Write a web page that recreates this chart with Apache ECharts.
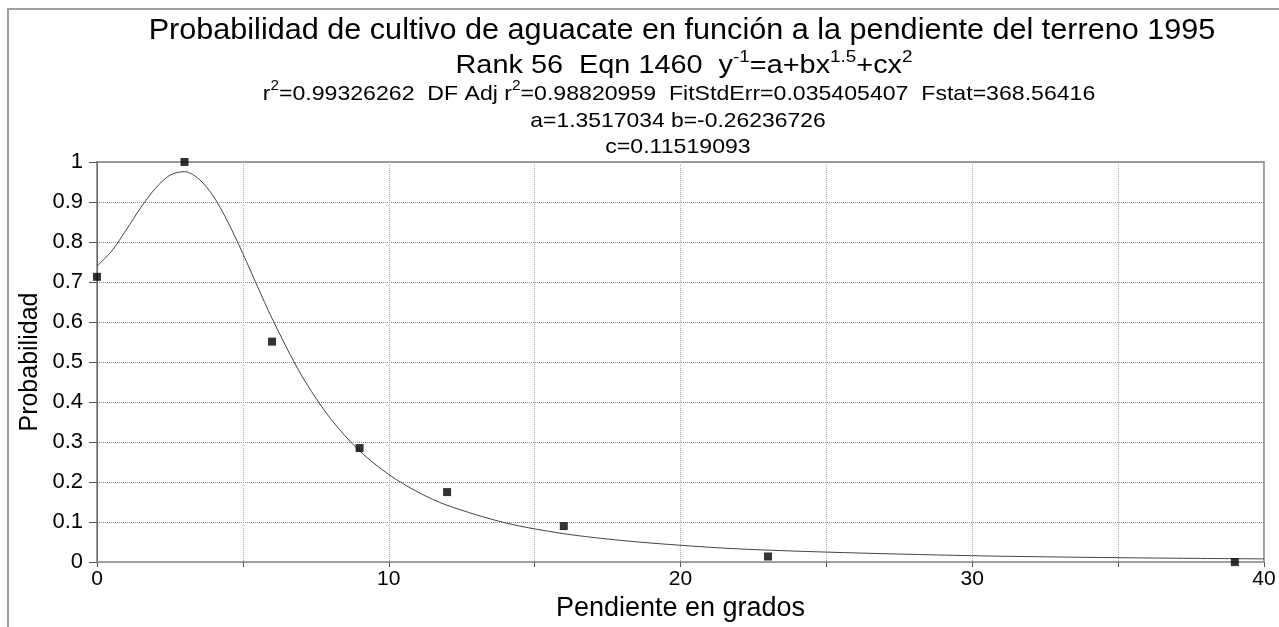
<!DOCTYPE html>
<html>
<head>
<meta charset="utf-8">
<title>Probabilidad de cultivo de aguacate</title>
<script src="https://cdn.jsdelivr.net/npm/echarts@6/dist/echarts.min.js"></script>
<style>
	html, body { margin: 0; padding: 0; background: #fff; }
	#chart { width: 1279px; height: 627px; }
</style>
</head>
<body>
<div id="chart"></div>
<script>
// puntos observados (pendiente en grados, probabilidad)
var puntosX = [0, 3, 6, 9, 12, 16, 23, 39];
var puntosY = [0.713, 1.0, 0.551, 0.285, 0.175, 0.090, 0.014, 0.0];

// curva ajustada
var curvaX = [0, 0.5, 1, 1.5, 2, 2.5, 3, 3.5, 4, 4.5, 5, 5.5, 6, 7, 8, 9, 10, 11, 12, 14, 16, 18, 20, 22, 25, 30, 35, 40];
var curvaY = [0.740, 0.777, 0.830, 0.886, 0.934, 0.967, 0.976, 0.957, 0.913, 0.848, 0.771, 0.689, 0.609, 0.468, 0.359, 0.278, 0.219, 0.175, 0.142, 0.098, 0.071, 0.054, 0.042, 0.033, 0.025, 0.016, 0.011, 0.008];

// textos del titulo
var titulo = 'Probabilidad de cultivo de aguacate en función a la pendiente del terreno 1995';
var linea2 = '{n|Rank 56  Eqn 1460  y}{s|-1}{n|=a+bx}{s|1.5}{n|+cx}{s|2}';
var linea3 = '{n|r}{s|2}{n|=0.99326262  DF Adj r}{s|2}{n|=0.98820959  FitStdErr=0.035405407  Fstat=368.56416}';
var linea4 = 'a=1.3517034 b=-0.26236726';
var linea5 = 'c=0.11519093';

var nombreX = 'Pendiente en grados';
var nombreY = 'Probabilidad';

var fuente = '"Liberation Sans", Arial, sans-serif';

grafico = {
	chart: null,
	init: function(){
		grafico.chart = echarts.init(document.getElementById('chart'), null, {renderer: 'canvas'});
		grafico.render();
	},
	par: function(xs, ys){
		var d = [];
		for (var i = 0; i < xs.length; i++) {
			d.push([xs[i], ys[i]]);
		}
		return d;
	},
	// linea de texto centrada sobre el area del grafico
	texto: function(txt, x, y, size, sup, ancho){
		return {
			type: 'text',
			x: x,
			y: y,
			scaleX: ancho,
			silent: true,
			style: {
				text: txt,
				fontFamily: fuente,
				fontSize: size,
				fill: '#000',
				align: 'center',
				textAlign: 'center',
				verticalAlign: 'middle',
				textVerticalAlign: 'middle',
				rich: {
					n: {fontFamily: fuente, fontSize: size, lineHeight: size + 8, fill: '#000'},
					s: {fontFamily: fuente, fontSize: sup, lineHeight: sup, verticalAlign: 'top', fill: '#000'}
				}
			}
		};
	},
	render: function(){
		var option = {
			backgroundColor: '#fff',
			animation: false,
			textStyle: {fontFamily: fuente},
			graphic: [
				{
					type: 'rect',
					shape: {x: 8, y: 9, width: 1400, height: 800},
					style: {fill: 'none', stroke: '#a0a0a0', lineWidth: 2},
					silent: true
				},
				grafico.texto(titulo, 682, 31, 30, 18, 1.02),
				grafico.texto(linea2, 684, 66, 26, 17, 1.11),
				grafico.texto(linea3, 679, 94, 21, 14, 1.1),
				grafico.texto(linea4, 678, 121, 21, 14, 1.09),
				grafico.texto(linea5, 678, 147, 21, 14, 1.1)
			],
			grid: {
				left: 97,
				right: 15,
				top: 162,
				bottom: 57,
				show: true,
				borderColor: '#a0a0a0',
				borderWidth: 2
			},
			xAxis: {
				type: 'value',
				min: 0,
				max: 40,
				interval: 5,
				name: nombreX,
				nameLocation: 'middle',
				nameGap: 26,
				nameTextStyle: {color: '#000', fontSize: 27, fontFamily: fuente},
				axisLine: {lineStyle: {color: '#a0a0a0', width: 2}},
				axisTick: {show: true, length: 5, lineStyle: {color: '#555'}},
				axisLabel: {
					color: '#000',
					fontSize: 21,
					margin: 7,
					fontFamily: fuente,
					formatter: function(v){ return v % 10 === 0 ? String(v) : ''; }
				},
				splitLine: {show: true, lineStyle: {type: 'dotted', color: '#aaa', width: 1}}
			},
			yAxis: {
				type: 'value',
				min: 0,
				max: 1,
				interval: 0.1,
				name: nombreY,
				nameLocation: 'middle',
				nameGap: 54,
				nameMoveOverlap: false,
				nameTextStyle: {color: '#000', fontSize: 25, fontFamily: fuente},
				axisLine: {show: true, lineStyle: {color: '#666', width: 1}},
				axisTick: {show: true, length: 8, lineStyle: {color: '#555'}},
				axisLabel: {color: '#000', fontSize: 22, margin: 14, fontFamily: fuente},
				splitLine: {show: true, lineStyle: {type: 'dotted', color: '#888', width: 1}}
			},
			series: [
				{
					name: 'curva',
					type: 'line',
					data: grafico.par(curvaX, curvaY),
					showSymbol: false,
					smooth: 0.3,
					lineStyle: {color: '#444', width: 1},
					z: 2
				},
				{
					name: 'puntos',
					type: 'scatter',
					data: grafico.par(puntosX, puntosY),
					symbol: 'rect',
					symbolSize: 8,
					itemStyle: {color: '#000'},
					z: 3
				}
			]
		};
		grafico.chart.setOption(option, false);
	}
};

grafico.init();
</script>
</body>
</html>
